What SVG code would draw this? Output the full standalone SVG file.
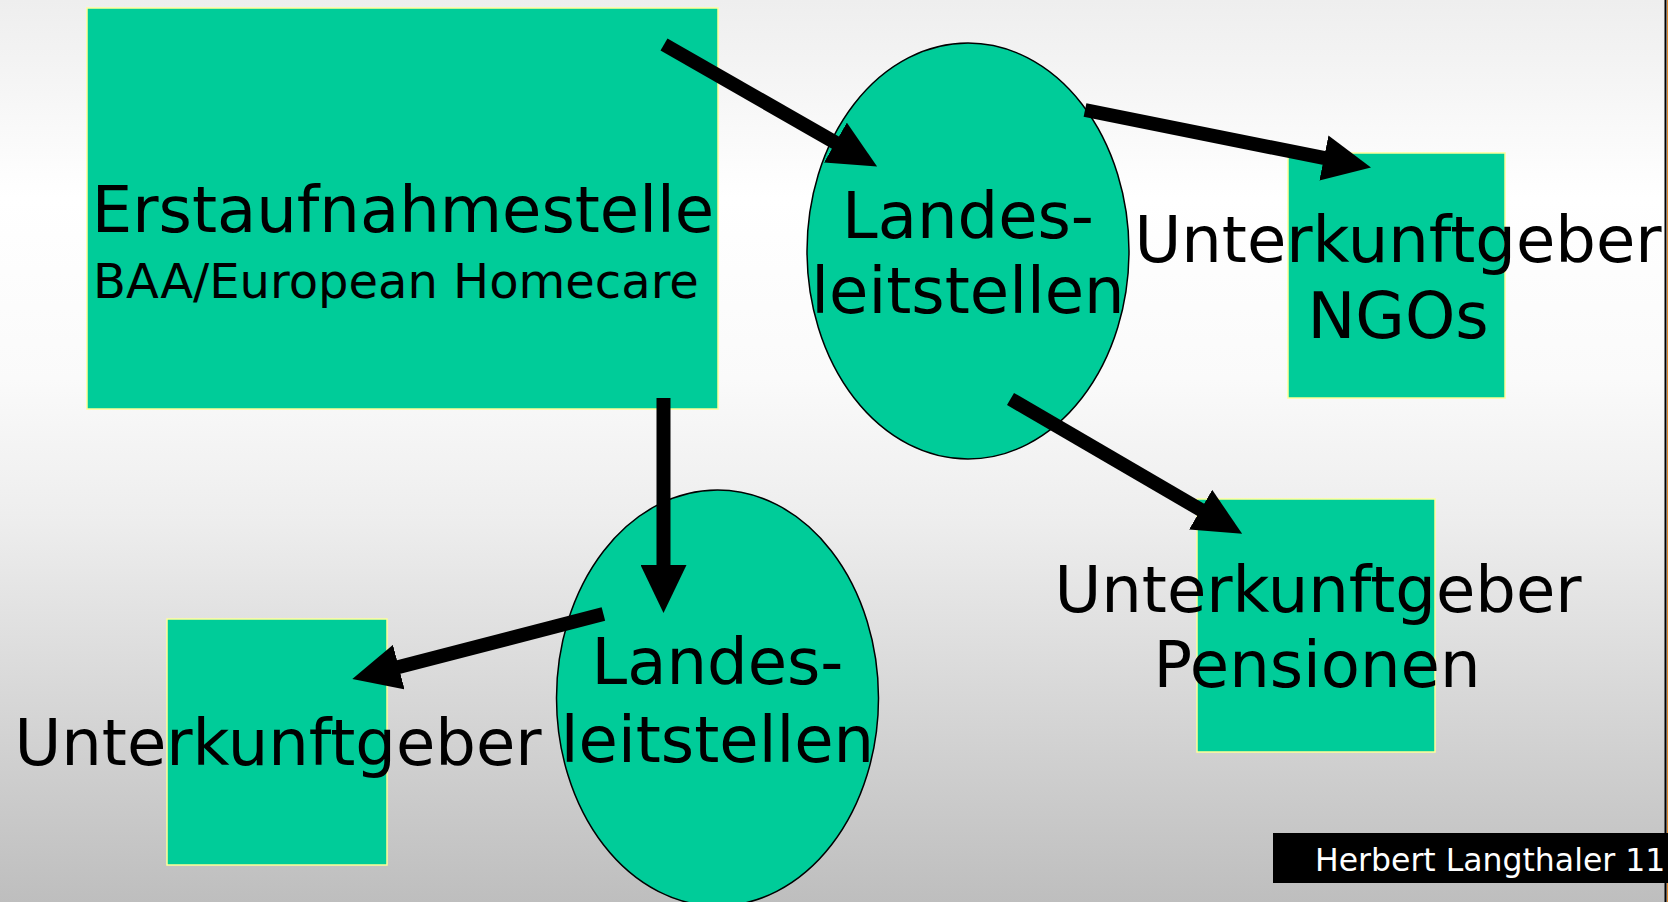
<svg xmlns="http://www.w3.org/2000/svg" width="1668" height="902" viewBox="0 0 1668 902">
<defs>
<linearGradient id="bg" x1="0" y1="0" x2="0" y2="1">
<stop offset="0" stop-color="#eeeeee"/>
<stop offset="0.22" stop-color="#ffffff"/>
<stop offset="0.42" stop-color="#fafafa"/>
<stop offset="0.58" stop-color="#ededed"/>
<stop offset="1" stop-color="#bebebe"/>
</linearGradient>
<marker id="ah" markerUnits="userSpaceOnUse" viewBox="0 0 48 46" markerWidth="48" markerHeight="46" refX="1" refY="23" orient="auto">
<path d="M0,0 L48,23 L0,46 z" fill="#000"/>
</marker>
<style>
.box{fill:#00cc99;stroke:#ffff99;stroke-width:1.5}
.ell{fill:#00cc99;stroke:#000;stroke-width:1.5}
.t{font-family:"DejaVu Sans",Verdana,sans-serif;fill:#000;text-anchor:middle}
.big{font-size:64px}
.mid{font-size:48px}
.conn line{stroke:#000;stroke-width:14;marker-end:url(#ah)}
</style>
</defs>
<rect x="0" y="0" width="1668" height="902" fill="url(#bg)"/>
<line x1="1665.5" y1="0" x2="1665.5" y2="902" stroke="#000" stroke-width="2"/>
<line x1="1667.5" y1="0" x2="1667.5" y2="902" stroke="#e08a30" stroke-width="1"/>

<g id="erstaufnahme">
<rect class="box" x="87" y="8" width="631" height="401"/>
<text class="t big" x="403" y="232">Erstaufnahmestelle</text>
<text class="t mid" x="396" y="298">BAA/European Homecare</text>
</g>

<g id="landes1">
<ellipse class="ell" cx="968" cy="251" rx="161" ry="208"/>
<text class="t big" x="968" y="238">Landes-</text>
<text class="t big" x="968" y="313">leitstellen</text>
</g>

<g id="ngos">
<rect class="box" x="1288" y="153" width="217" height="245"/>
<text class="t big" x="1398" y="262">Unterkunftgeber</text>
<text class="t big" x="1398" y="338">NGOs</text>
</g>

<g id="pensionen">
<rect class="box" x="1197" y="499" width="238" height="253"/>
<text class="t big" x="1318" y="612">Unterkunftgeber</text>
<text class="t big" x="1317" y="687">Pensionen</text>
</g>

<g id="landes2">
<ellipse class="ell" cx="717.5" cy="698" rx="161" ry="208"/>
<text class="t big" x="717.5" y="684">Landes-</text>
<text class="t big" x="717.5" y="762">leitstellen</text>
</g>

<g id="unterkunft">
<rect class="box" x="167" y="619" width="220" height="246"/>
<text class="t big" x="278" y="765">Unterkunftgeber</text>
</g>

<g id="connectors" class="conn">
<line x1="664" y1="44.5" x2="836.3" y2="143.1"/>
<line x1="1085" y1="110" x2="1324.9" y2="158.2"/>
<line x1="1010.5" y1="399" x2="1201.5" y2="510.2"/>
<line x1="663.5" y1="398" x2="663.5" y2="566"/>
<line x1="603.4" y1="614" x2="397.8" y2="667.3"/>
</g>

<g id="footer">
<rect x="1273" y="833" width="395" height="50" fill="#000"/>
<text x="1315" y="871" font-family="DejaVu Sans, Verdana, sans-serif" font-size="31.5" fill="#fff">Herbert Langthaler 11</text>
</g>
</svg>
